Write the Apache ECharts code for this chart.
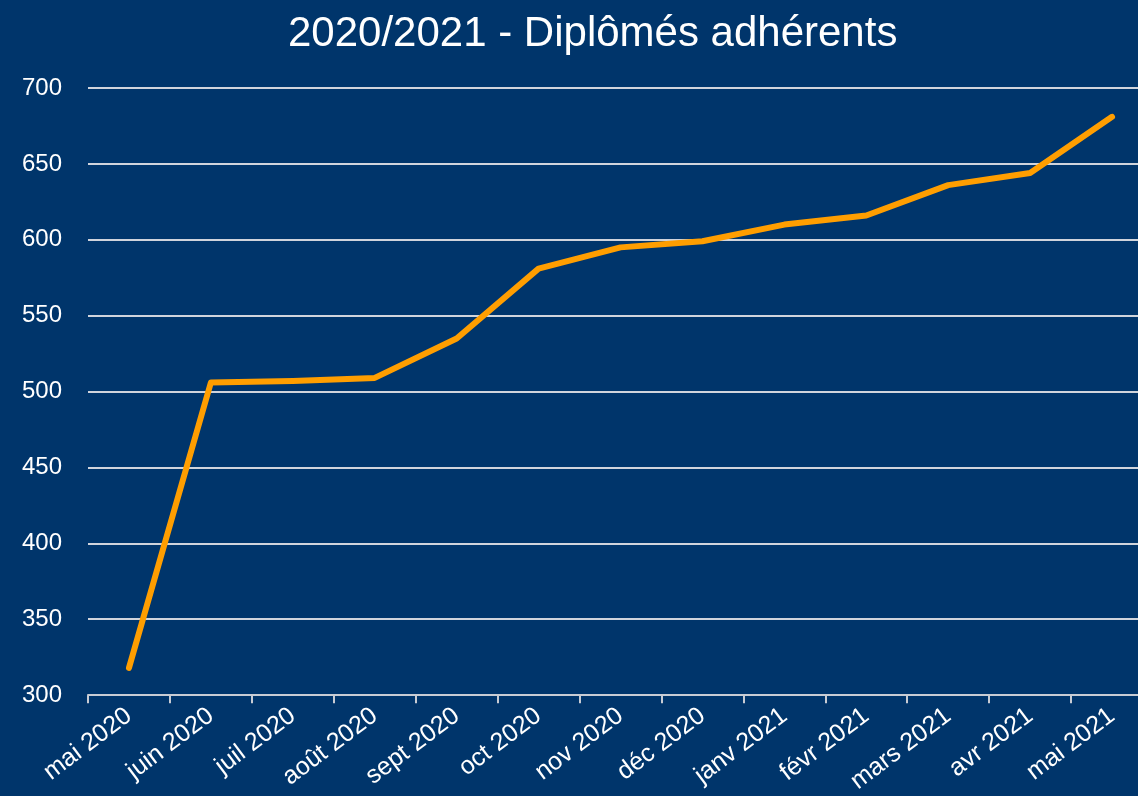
<!DOCTYPE html>
<html>
<head>
<meta charset="utf-8">
<script src="https://cdn.jsdelivr.net/npm/echarts@6/dist/echarts.min.js"></script>
<style>
html, body { margin: 0; padding: 0; background: #00356b; overflow: hidden; }
/* plot runs past the right edge in the original, so the chart is a bit wider than the window */
#c1 { width: 1153px; height: 796px; }
</style>
</head>
<body>
<div id="c1"></div>
<script>
var months = ['mai 2020', 'juin 2020', 'juil 2020', 'août 2020', 'sept 2020', 'oct 2020', 'nov 2020',
              'déc 2020', 'janv 2021', 'févr 2021', 'mars 2021', 'avr 2021', 'mai 2021'];
var adherents = [318, 506, 507, 509, 535, 581, 595, 599, 610, 616, 636, 644, 681];
var y_min = 300, y_max = 700, y_step = 50;

var c1_chart = echarts.init(document.getElementById('c1'));
var fnt = '"Liberation Sans", Arial, sans-serif';

var c1_option = {
    backgroundColor: '#00356b',
    animation: false,
    title: {
        text: '2020/2021 - Diplômés adhérents',
        left: 283,
        top: 8,
        textStyle: { color: '#ffffff', fontSize: 42, fontWeight: 'normal', fontFamily: fnt }
    },
    grid: { left: 88, right: 0, top: 88, bottom: 100, containLabel: false },
    xAxis: {
        type: 'category',
        data: months,
        boundaryGap: true,
        axisLine: { lineStyle: { color: '#c8ccd4', width: 2 } },
        axisTick: { show: true, length: 8, lineStyle: { color: '#c8ccd4', width: 2 } },
        axisLabel: {
            color: '#ffffff', fontSize: 25, fontFamily: fnt,
            rotate: 37, interval: 0, margin: 18
        }
    },
    yAxis: {
        type: 'value',
        min: y_min, max: y_max, interval: y_step,
        axisLine: { show: false },
        axisTick: { show: false },
        splitLine: { lineStyle: { color: '#d0d4dc', width: 2 } },
        axisLabel: { color: '#ffffff', fontSize: 24, fontFamily: fnt, margin: 26 }
    },
    series: [{
        type: 'line',
        data: adherents,
        symbol: 'none',
        lineStyle: { color: '#ff9e00', width: 6, cap: 'round', join: 'round' }
    }]
};

c1_chart.setOption(c1_option);
</script>
</body>
</html>
